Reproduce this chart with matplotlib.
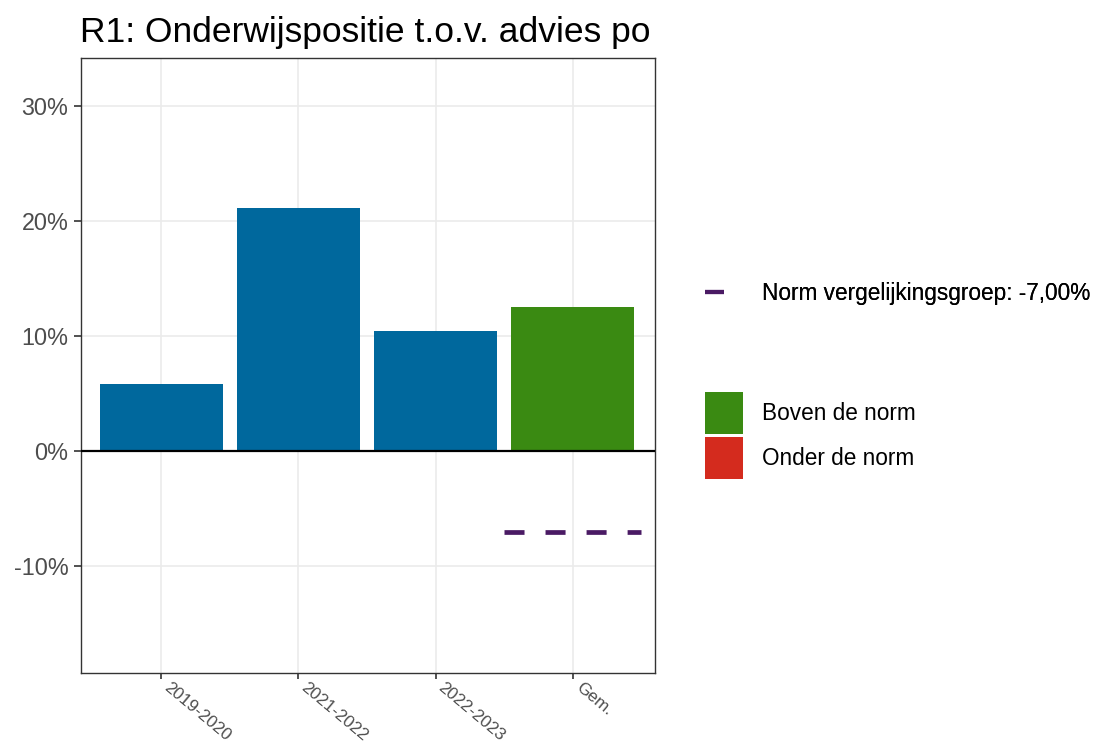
import numpy as np
import matplotlib.pyplot as plt
from matplotlib.lines import Line2D
from matplotlib.patches import Patch
from matplotlib.ticker import FuncFormatter

plt.rcParams['font.family'] = ['Liberation Sans', 'DejaVu Sans']

# data
categories = ['2019-2020', '2021-2022', '2022-2023', 'Gem.']
values = [5.8, 21.15, 10.45, 12.5]  # percent
norm = -7.0
yticks = [-10, 0, 10, 20, 30]

# colours
blue = '#00689d'
green = '#3a8a12'
red = '#d42b1e'
purple = '#4a1a64'

bar_colors = [blue] * (len(categories) - 1)
bar_colors.append(green if values[-1] >= norm else red)

fig = plt.figure(figsize=(11.07, 7.42), dpi=100)
ax = fig.add_axes([0.0732, 0.093, 0.5185, 0.8288])

x = np.arange(len(categories))
ax.bar(x, values, width=0.9, color=bar_colors, zorder=2)
ax.axhline(0, color='black', lw=1.6, zorder=3)

# norm line under the average bar
gem = x[-1]
ax.plot([gem - 0.5, gem + 0.5], [norm, norm], color=purple, lw=3.4,
        dashes=(4.24, 4.45), solid_capstyle='butt', zorder=3)

ax.set_xlim(-0.585, 3.6)
ax.set_ylim(-19.3, 34.2)
ax.set_xticks(x)
ax.set_xticklabels(categories, rotation=-40, ha='left', va='top',
                   rotation_mode='default', fontsize=12.3, color='#4d4d4d')
ax.set_yticks(yticks)
ax.yaxis.set_major_formatter(FuncFormatter(lambda v, p: f'{v:.0f}%'))
ax.tick_params(axis='y', labelsize=16.8, labelcolor='#4d4d4d', length=5,
               width=1.2, color='#333333', pad=4)
ax.tick_params(axis='x', length=4.5, width=1.2, color='#333333', pad=0.5)
ax.grid(True, color='#ebebeb', lw=1.2, zorder=0)
ax.set_axisbelow(True)
for s in ax.spines.values():
    s.set_color('#333333')
    s.set_linewidth(1.0)

fig.text(0.0723, 0.9434, 'R1: Onderwijspositie t.o.v. advies po',
         fontsize=25.5, ha='left', va='baseline', color='black')

# legends
leg1 = fig.legend(handles=[Line2D([0], [0], color=purple, lw=3, solid_capstyle='butt')],
                  labels=[f'Norm vergelijkingsgroep: {norm:.2f}%'.replace('.', ',')],
                  loc='center left', bbox_to_anchor=(0.637, 0.605), frameon=False,
                  fontsize=16.3, handlelength=0.84, handletextpad=1.68, borderpad=0,
                  borderaxespad=0)
fig.add_artist(leg1)
leg2 = fig.legend(handles=[Patch(facecolor=green), Patch(facecolor=red)],
                  labels=['Boven de norm', 'Onder de norm'],
                  loc='upper left', bbox_to_anchor=(0.637, 0.4717), frameon=False,
                  fontsize=16.3, handlelength=1.68, handleheight=2.474,
                  handletextpad=0.84, labelspacing=0.13, borderpad=0,
                  borderaxespad=0)

fig.savefig('out.png', dpi=100)
